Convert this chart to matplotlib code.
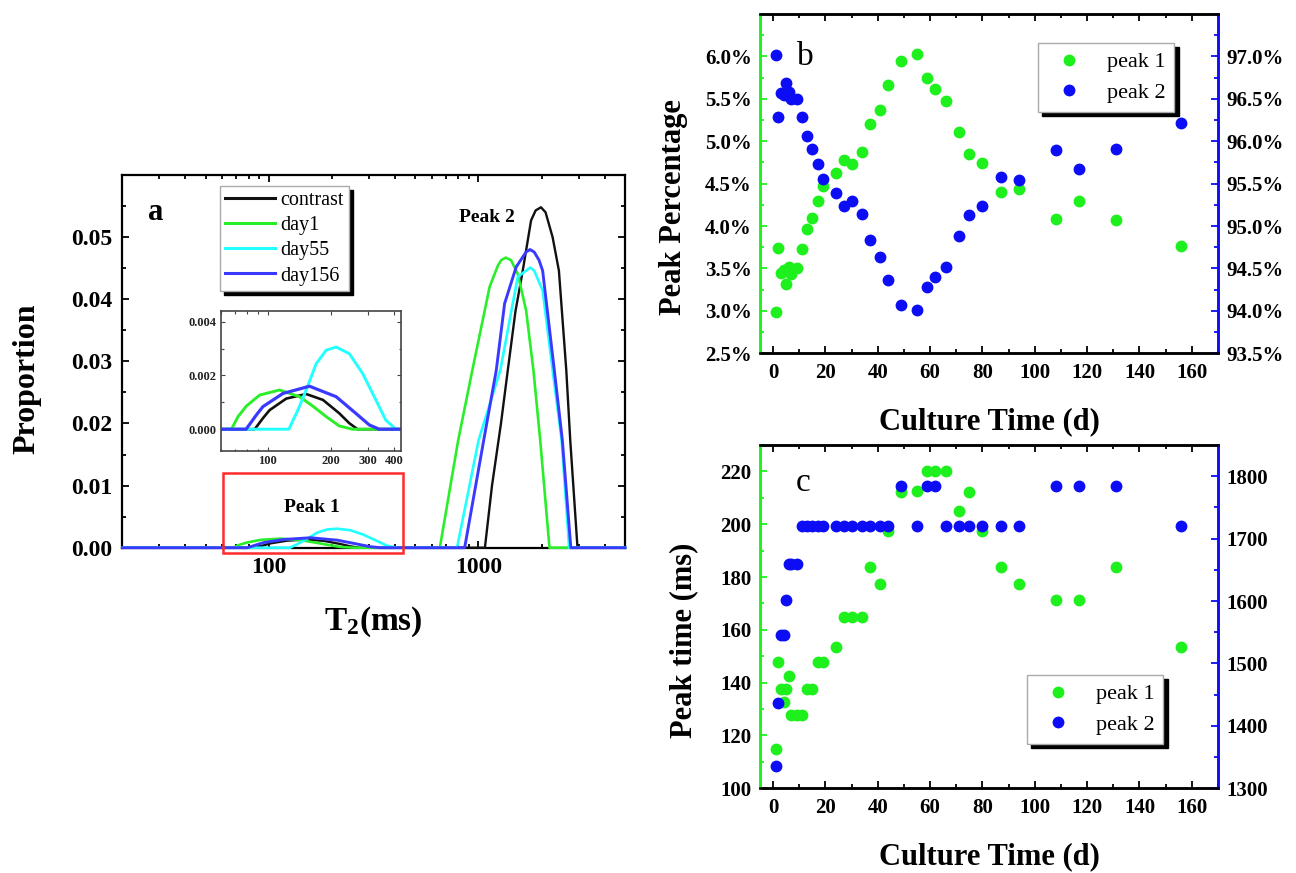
import matplotlib
matplotlib.use('Agg')
import matplotlib.pyplot as plt
from matplotlib.ticker import FixedLocator, FuncFormatter, LogLocator, NullFormatter, MultipleLocator
from matplotlib.patches import Rectangle
from matplotlib.lines import Line2D

plt.rcParams['font.family'] = ['Liberation Serif', 'DejaVu Serif']
plt.rcParams['font.weight'] = 'bold'
plt.rcParams['mathtext.default'] = 'regular'

# ---------------- data: panel a (T2 distributions) ----------------
contrast_t2 = [20, 86.8, 95, 102.2, 122.7, 152.6, 183.5, 219.5, 245, 268,
               1073, 1160, 1280, 1380, 1500, 1626, 1782, 1874, 1986, 2089, 2257, 2419, 2623, 2740, 2967, 5000]
contrast_p = [0, 0, 0.00041, 0.00071, 0.00114, 0.00131, 0.00109, 0.00059, 0.00022, 0,
              0, 0.010, 0.020, 0.0286, 0.038, 0.0446, 0.0527, 0.0543, 0.0548, 0.054, 0.050, 0.0446, 0.0286, 0.0173, 0, 0]

day1_t2 = [20, 67.3, 72.3, 79.2, 91.6, 114, 141.9, 164.1, 189.9, 219.5, 253.6,
           654, 800, 935, 1130, 1237, 1284, 1348, 1429, 1539, 1687, 1828, 1970, 2181, 5000]
day1_p = [0, 0, 0.00047, 0.00086, 0.00127, 0.00146, 0.00121, 0.00086, 0.00047, 0.00012, 0,
          0, 0.0173, 0.0286, 0.042, 0.0454, 0.0463, 0.0467, 0.0463, 0.0441, 0.0382, 0.0286, 0.0173, 0, 0]

day55_t2 = [20, 126.2, 139.3, 152.6, 170.3, 189.9, 211.9, 245, 283.5, 327.5, 365, 408,
            790, 1001, 1271, 1539, 1687, 1761, 1844, 2023, 2257, 2493, 2708, 5000]
day55_p = [0, 0, 0.00071, 0.00146, 0.00244, 0.00294, 0.00306, 0.00281, 0.00207, 0.00109, 0.00034, 0,
           0, 0.0173, 0.0286, 0.0436, 0.0446, 0.0451, 0.0446, 0.0414, 0.0286, 0.0173, 0, 0]

day156_t2 = [20, 79, 88.4, 95, 118.2, 158.2, 211.9, 263, 304.6, 340,
             859, 1059, 1216, 1332, 1513, 1687, 1761, 1844, 1944, 2023, 2299, 2512, 2757, 5000]
day156_p = [0, 0, 0.00053, 0.00084, 0.00133, 0.0016, 0.00121, 0.00059, 0.00016, 0,
            0, 0.0173, 0.0286, 0.0393, 0.0452, 0.0476, 0.048, 0.0476, 0.0463, 0.0446, 0.0286, 0.0173, 0, 0]

series_labels = ['contrast', 'day1', 'day55', 'day156']

# ---------------- data: panels b and c ----------------
days = [1, 2, 3, 4, 5, 6, 7, 9, 11, 13, 15, 17, 19, 24, 27, 30, 34, 37, 41, 44,
        49, 55, 59, 62, 66, 71, 75, 80, 87, 94, 108, 117, 131, 156]
pct_peak1 = [2.99, 3.74, 3.45, 3.48, 3.32, 3.52, 3.44, 3.50, 3.73, 3.96, 4.10, 4.29, 4.47,
             4.63, 4.78, 4.73, 4.87, 5.20, 5.37, 5.66, 5.95, 6.03, 5.75, 5.62, 5.47,
             5.11, 4.85, 4.74, 4.40, 4.44, 4.08, 4.30, 4.07, 3.76]
pct_peak2 = [97.02, 96.28, 96.57, 96.55, 96.69, 96.58, 96.50, 96.50, 96.28, 96.06, 95.91, 95.73, 95.55,
             95.39, 95.24, 95.29, 95.14, 94.83, 94.64, 94.37, 94.07, 94.01, 94.28, 94.40, 94.52,
             94.88, 95.13, 95.24, 95.58, 95.54, 95.90, 95.67, 95.91, 96.22]
time_peak1 = [115, 148, 137.5, 132.7, 137.5, 142.4, 127.6, 127.6, 127.6, 137.5, 137.5, 148, 148,
              153.5, 165, 165, 165, 183.7, 177.3, 197.5, 212.1, 212.4, 220.3, 220.3, 220.3,
              205, 212.2, 197.5, 183.7, 177.3, 171.2, 171.2, 183.7, 153.4]
time_peak2 = [1336, 1436, 1546, 1546, 1602, 1660, 1660, 1660, 1720, 1720, 1720, 1720, 1720,
              1720, 1720, 1720, 1720, 1720, 1720, 1720, 1784, 1720, 1784, 1784, 1720,
              1720, 1720, 1720, 1720, 1720, 1784, 1784, 1784, 1720]

# ---------------- styling ----------------
BLACK = '#111111'
GREEN_L = '#2bee2b'
CYAN = '#22ffff'
BLUE_L = '#3a3aff'
GREEN = '#1ef01e'
BLUE = '#0c0cf5'

W, H = 1296, 873
def rect(l, t, r, b):
    return [l / W, 1 - b / H, (r - l) / W, (b - t) / H]

fig = plt.figure(figsize=(W / 100, H / 100), dpi=100)

shadow = {'ox': 3, 'oy': -3, 'facecolor': 'black', 'edgecolor': 'black', 'alpha': 1.0}

# ================= panel a =================
axA = fig.add_axes(rect(122.4, 175, 625, 547.7))
axA.set_xscale('log')
curves = [(contrast_t2, contrast_p, BLACK, 1.7),
          (day1_t2, day1_p, GREEN_L, 1.9),
          (day55_t2, day55_p, CYAN, 1.9),
          (day156_t2, day156_p, BLUE_L, 2.1)]
handles = []
for (t2, p, c, lw), lab in zip(curves, series_labels):
    axA.plot(t2, p, color=c, lw=lw, clip_on=False, zorder=3, solid_joinstyle='round')
    handles.append(Line2D([], [], color=c, lw=2.2))
axA.set_xlim(20, 5000)
axA.set_ylim(0, 0.06)
axA.xaxis.set_major_locator(FixedLocator([100, 1000]))
axA.xaxis.set_major_formatter(FuncFormatter(lambda v, p: f'{v:.0f}'))
axA.xaxis.set_minor_locator(LogLocator(base=10, subs=range(2, 10), numticks=20))
axA.xaxis.set_minor_formatter(NullFormatter())
axA.yaxis.set_major_locator(FixedLocator([0, 0.01, 0.02, 0.03, 0.04, 0.05]))
axA.yaxis.set_minor_locator(MultipleLocator(0.005))
axA.yaxis.set_major_formatter(FuncFormatter(lambda v, p: f'{v:.2f}'))
axA.tick_params(which='both', direction='in', top=True, right=True, width=1.3)
axA.tick_params(which='major', length=5, labelsize=17, pad=7)
axA.tick_params(which='minor', length=3)
for s in axA.spines.values():
    s.set_linewidth(1.6)

axA.add_patch(Rectangle((60.2, -0.0008), 438 - 60.2, 0.01206 + 0.0008, fill=False,
                        ec='#ff2a2a', lw=1.8, clip_on=False, zorder=4))

legA = fig.legend(handles, series_labels, loc='upper left',
                  bbox_to_anchor=(220 / W, 1 - 186 / H), bbox_transform=fig.transFigure,
                  prop={'size': 14.5, 'weight': 'normal'}, handlelength=2.5, handletextpad=0.25,
                  labelspacing=0.3, borderpad=0.25, borderaxespad=0, fancybox=False,
                  framealpha=1, edgecolor='#aaaaaa', shadow=shadow)
legA.get_frame().set_linewidth(1.0)

# inset
axI = fig.add_axes(rect(221, 311, 400.7, 450.7))
axI.set_xscale('log')
for (t2, p, c, lw) in curves:
    axI.plot(t2, p, color=c, lw=lw + 0.2, solid_joinstyle='round')
axI.set_xlim(60, 430)
axI.set_ylim(-0.0008, 0.0044)
axI.xaxis.set_major_locator(FixedLocator([100, 200, 300, 400]))
axI.xaxis.set_major_formatter(FuncFormatter(lambda v, p: f'{v:.0f}'))
axI.xaxis.set_minor_locator(LogLocator(base=10, subs=range(2, 10), numticks=20))
axI.xaxis.set_minor_formatter(NullFormatter())
axI.yaxis.set_major_locator(FixedLocator([0, 0.002, 0.004]))
axI.yaxis.set_minor_locator(MultipleLocator(0.001))
axI.yaxis.set_major_formatter(FuncFormatter(lambda v, p: f'{v:.3f}'))
axI.tick_params(which='both', direction='in', top=True, right=True, width=0.8,
                colors='#444444', labelcolor='#222222')
axI.tick_params(which='major', length=3, labelsize=9, pad=3)
axI.tick_params(which='minor', length=1.8)
for s in axI.spines.values():
    s.set_linewidth(1.2)
    s.set_color('#444444')

fig.text(156 / W, 1 - 212 / H, 'a', fontsize=22, ha='center', va='center')
fig.text(487 / W, 1 - 218 / H, 'Peak 2', fontsize=14, ha='center', va='center')
fig.text(312 / W, 1 - 508 / H, 'Peak 1', fontsize=14, ha='center', va='center')
fig.text(26.5 / W, 1 - 379 / H, 'Proportion', fontsize=23, rotation=90, ha='center', va='center')
fig.text(373.6 / W, 1 - 622 / H, 'T$_2$(ms)', fontsize=24, ha='center', va='center')

# ================= panels b and c =================
def style_twin(ax, ax2):
    for a in (ax, ax2):
        for s in a.spines.values():
            s.set_linewidth(1.8)
        a.spines['left'].set_color(GREEN)
        a.spines['right'].set_color(BLUE)
    ax.set_xlim(-5, 170)
    ax.xaxis.set_major_locator(MultipleLocator(20))
    ax.xaxis.set_minor_locator(MultipleLocator(10))
    ax.tick_params(axis='x', which='both', direction='in', top=True, width=1.3)
    ax.tick_params(axis='x', which='major', length=5, labelsize=15, pad=7)
    ax.tick_params(axis='x', which='minor', length=3)
    ax.tick_params(axis='y', which='both', direction='in', colors=GREEN, labelcolor='black', width=1.3)
    ax.tick_params(axis='y', which='major', length=5, labelsize=15, pad=6)
    ax.tick_params(axis='y', which='minor', length=3)
    ax2.tick_params(axis='y', which='both', direction='in', colors=BLUE, labelcolor='black', width=1.3)
    ax2.tick_params(axis='y', which='major', length=5, labelsize=15, pad=6)
    ax2.tick_params(axis='y', which='minor', length=3)

MS = 7.5
axB = fig.add_axes(rect(760, 14, 1218, 353.3))
axB2 = axB.twinx()
axB.plot(days, pct_peak1, 'o', color=GREEN, ms=MS, mec=GREEN)
axB2.plot(days, pct_peak2, 'o', color=BLUE, ms=MS, mec=BLUE)
axB.set_ylim(2.5, 6.5)
axB2.set_ylim(93.5, 97.5)
axB.yaxis.set_major_locator(FixedLocator([2.5, 3.0, 3.5, 4.0, 4.5, 5.0, 5.5, 6.0]))
axB.yaxis.set_minor_locator(MultipleLocator(0.25))
axB.yaxis.set_major_formatter(FuncFormatter(lambda v, p: f'{v:.1f}%'))
axB2.yaxis.set_major_locator(FixedLocator([93.5, 94.0, 94.5, 95.0, 95.5, 96.0, 96.5, 97.0]))
axB2.yaxis.set_minor_locator(MultipleLocator(0.25))
axB2.yaxis.set_major_formatter(FuncFormatter(lambda v, p: f'{v:.1f}%'))
style_twin(axB, axB2)

axC = fig.add_axes(rect(760, 445, 1218, 788.3))
axC2 = axC.twinx()
axC.plot(days, time_peak1, 'o', color=GREEN, ms=MS, mec=GREEN)
axC2.plot(days, time_peak2, 'o', color=BLUE, ms=MS, mec=BLUE)
axC.set_ylim(100, 230)
axC2.set_ylim(1300, 1850)
axC.yaxis.set_major_locator(FixedLocator([100, 120, 140, 160, 180, 200, 220]))
axC.yaxis.set_minor_locator(MultipleLocator(10))
axC2.yaxis.set_major_locator(FixedLocator([1300, 1400, 1500, 1600, 1700, 1800]))
axC2.yaxis.set_minor_locator(MultipleLocator(50))
style_twin(axC, axC2)

pt_handles = [Line2D([], [], ls='none', marker='o', color=GREEN, ms=MS),
              Line2D([], [], ls='none', marker='o', color=BLUE, ms=MS)]
pt_labels = ['peak 1', 'peak 2']
for (x0, y0) in [(1038, 43), (1027, 675)]:
    lg = fig.legend(pt_handles, pt_labels, loc='upper left',
                    bbox_to_anchor=(x0 / W, 1 - y0 / H), bbox_transform=fig.transFigure,
                    prop={'size': 16, 'weight': 'normal'}, handlelength=2.0, handletextpad=0.7,
                    labelspacing=0.45, borderpad=0.4, borderaxespad=0, fancybox=False,
                    framealpha=1, edgecolor='#aaaaaa', shadow=shadow)
    lg.get_frame().set_linewidth(1.0)

fig.text(805 / W, 1 - 57 / H, 'b', fontsize=24, fontweight='normal', ha='center', va='center')
fig.text(803 / W, 1 - 483 / H, 'c', fontsize=24, fontweight='normal', ha='center', va='center')
fig.text(673 / W, 1 - 207 / H, 'Peak Percentage', fontsize=22, rotation=90, ha='center', va='center')
fig.text(989 / W, 1 - 421.7 / H, 'Culture Time (d)', fontsize=22, ha='center', va='center')
fig.text(684 / W, 1 - 640 / H, 'Peak time (ms)', fontsize=22, rotation=90, ha='center', va='center')
fig.text(989 / W, 1 - 857 / H, 'Culture Time (d)', fontsize=22, ha='center', va='center')

fig.savefig('out.png', dpi=100)
